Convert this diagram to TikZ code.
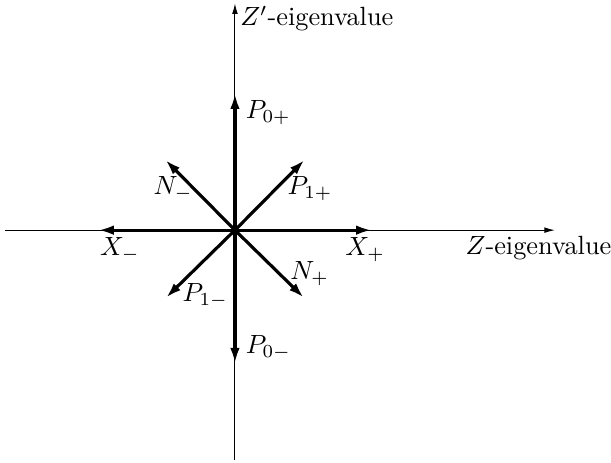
\documentclass[tikz,border=0pt]{standalone}
\usepackage{amsmath,amssymb}
\usetikzlibrary{arrows.meta, positioning}
\tikzset{
  axisLine/.style={
    -{Latex[length=4pt,width=2.2pt]},
    line width=0.4pt
  },
  rootVec/.style={
    -{Latex[length=6pt,width=3.6pt]},
    line width=1.2pt
  },
  vecLabel/.style={
    inner sep=0pt
  }
}

\begin{document}
\begin{tikzpicture}[x=26pt,y=26pt]
  \useasboundingbox (-3.43,-3.39) rectangle (5.49,3.36);
  % axes
  \coordinate (O) at (0,0);
  \coordinate (zLeft) at (-3.36,0);
  \coordinate (zRight) at (4.67,0);
  \coordinate (zpBottom) at (0,-3.35);
  \coordinate (zpTop) at (0,3.31);
  \draw[line width=0.4pt] (O) -- (zLeft);
  \draw[axisLine] (O) -- (zRight);
  \draw[line width=0.4pt] (O) -- (zpBottom);
  \draw[axisLine] (O) -- (zpTop);
  \node[vecLabel, anchor=west] (zLab) at (3.36,-0.26) {$Z$-eigenvalue};
  \node[vecLabel, anchor=west] (zpLab) at (0.07,3.09) {$Z'$-eigenvalue};
  % roots
  \coordinate (xPlus) at (2,0);
  \coordinate (xMinus) at (-2,0);
  \coordinate (pZeroPlus) at (0,2);
  \coordinate (pZeroMinus) at (0,-1.95);
  \coordinate (pOnePlus) at (1.02,1.03);
  \coordinate (pOneMinus) at (-1.01,-0.99);
  \coordinate (nPlus) at (1.01,-0.99);
  \coordinate (nMinus) at (-1.02,1.03);
  \foreach \tip in {xPlus,xMinus,pZeroPlus,pZeroMinus,pOnePlus,pOneMinus,nPlus,nMinus}
    \draw[rootVec] (O) -- (\tip);
  \node[vecLabel] (xPlusLab) at (1.90,-0.29) {$X_+$};
  \node[vecLabel] (xMinusLab) at (-1.68,-0.29) {$X_-$};
  \node[vecLabel, anchor=west] (pZeroPlusLab) at (0.15,1.71) {$P_{0+}$};
  \node[vecLabel, anchor=west] (pZeroMinusLab) at (0.15,-1.72) {$P_{0-}$};
  \node[vecLabel, anchor=west] (pOnePlusLab) at (0.76,0.61) {$P_{1+}$};
  \node[vecLabel, anchor=east] (nMinusLab) at (-0.61,0.61) {$N_-$};
  \node[vecLabel, anchor=west] (pOneMinusLab) at (-0.77,-0.95) {$P_{1-}$};
  \node[vecLabel, anchor=west] (nPlusLab) at (0.80,-0.63) {$N_+$};
\end{tikzpicture}
\end{document}
